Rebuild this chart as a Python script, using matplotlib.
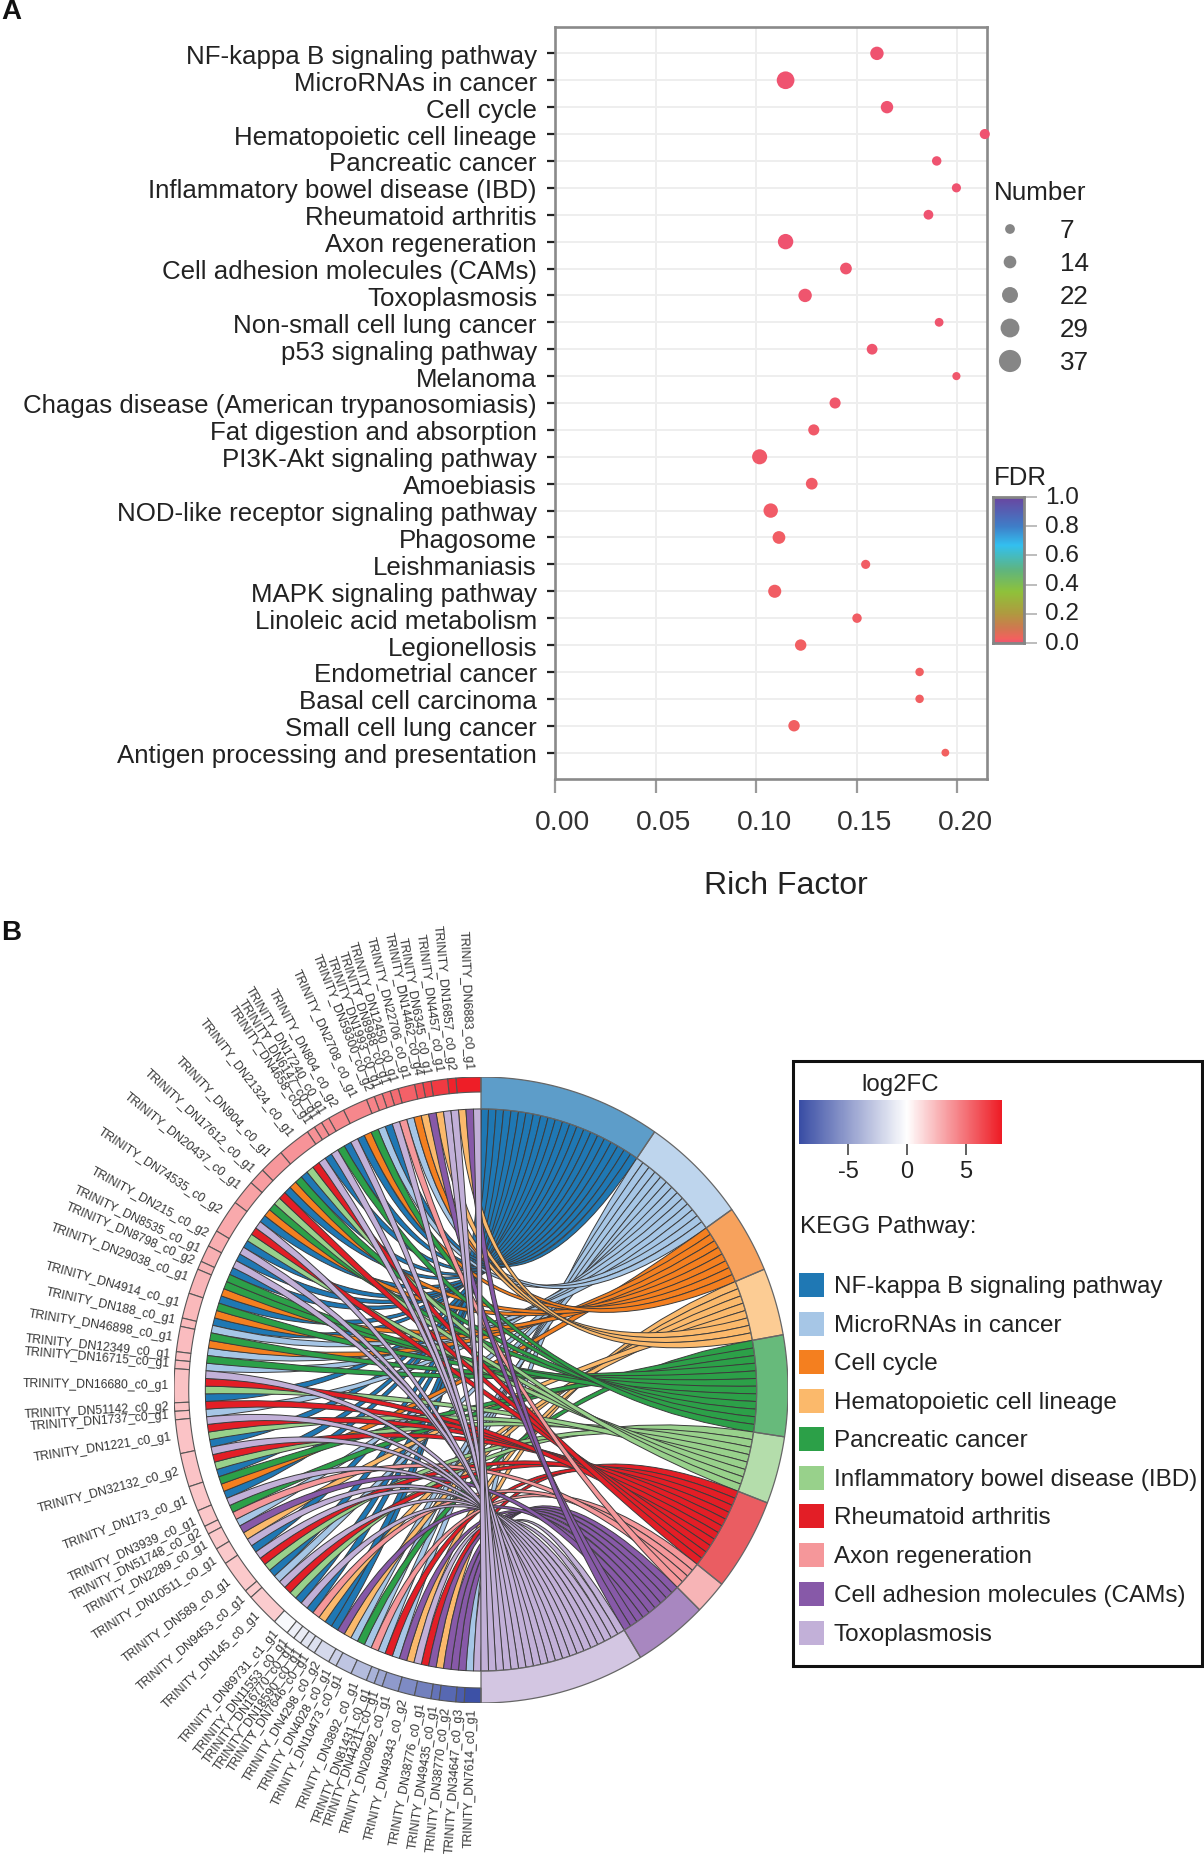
import numpy as np
import matplotlib
matplotlib.use('Agg')
import matplotlib.pyplot as plt
from matplotlib.colors import LinearSegmentedColormap, TwoSlopeNorm
from matplotlib.path import Path
from matplotlib.patches import PathPatch, Polygon, Rectangle
from matplotlib.transforms import ScaledTranslation

plt.rcParams['font.family'] = ['Liberation Sans', 'DejaVu Sans']

W, H = 1204, 1855

# panel A
terms = ['NF-kappa B signaling pathway', 'MicroRNAs in cancer', 'Cell cycle',
         'Hematopoietic cell lineage', 'Pancreatic cancer', 'Inflammatory bowel disease (IBD)',
         'Rheumatoid arthritis', 'Axon regeneration', 'Cell adhesion molecules (CAMs)',
         'Toxoplasmosis', 'Non-small cell lung cancer', 'p53 signaling pathway', 'Melanoma',
         'Chagas disease (American trypanosomiasis)', 'Fat digestion and absorption',
         'PI3K-Akt signaling pathway', 'Amoebiasis', 'NOD-like receptor signaling pathway',
         'Phagosome', 'Leishmaniasis', 'MAPK signaling pathway', 'Linoleic acid metabolism',
         'Legionellosis', 'Endometrial cancer', 'Basal cell carcinoma', 'Small cell lung cancer',
         'Antigen processing and presentation']
rich = [.160, .1146, .165, .2136, .1897, .1995, .1856, .1146, .1446, .1243, .1909, .1576, .1995,
        .1392, .1286, .1017, .1276, .1072, .1113, .1544, .1092, .1501, .1221, .1812, .1812, .1188, .194]
number = [24, 37, 21, 14, 12, 11, 13, 30, 19, 24, 10, 16, 8, 17, 17, 29, 19, 27, 22, 11, 23, 12, 18, 9, 9, 18, 7]
fdr = [0, 0, 0, 0, .002, .002, .003, .003, .004, .005, .006, .007, .008, .01, .012, .014, .016,
       .018, .02, .021, .022, .023, .024, .025, .026, .027, .03]
size_ticks = [7, 14, 22, 29, 37]
fdr_ticks = [0.0, 0.2, 0.4, 0.6, 0.8, 1.0]
x_ticks = [0.00, 0.05, 0.10, 0.15, 0.20]

# panel B, genes from the top of the circle going anticlockwise, with their pathways
genes = ['DN6883_c0_g1', 'DN16857_c0_g2', 'DN4457_c0_g1', 'DN6345_c0_g1', 'DN14462_c0_g4', 'DN22706_c0_g1',
         'DN12450_c0_g1', 'DN8988_c0_g1', 'DN1993_c0_g1', 'DN59300_c0_g2', 'DN2708_c0_g1', 'DN804_c0_g2',
         'DN17240_c0_g1', 'DN6147_c0_g1', 'DN4658_c0_g1', 'DN21324_c0_g1', 'DN904_c0_g1', 'DN17612_c0_g1',
         'DN20437_c0_g1', 'DN74535_c0_g2', 'DN215_c0_g2', 'DN8535_c0_g1', 'DN8798_c0_g2', 'DN29038_c0_g1',
         'DN4914_c0_g1', 'DN188_c0_g1', 'DN46898_c0_g1', 'DN12349_c0_g1', 'DN16715_c0_g1', 'DN16680_c0_g1',
         'DN51142_c0_g2', 'DN1737_c0_g1', 'DN1221_c0_g1', 'DN32132_c0_g2', 'DN173_c0_g1', 'DN3939_c0_g1',
         'DN51748_c0_g2', 'DN2289_c0_g1', 'DN10511_c0_g1', 'DN589_c0_g1', 'DN9453_c0_g1', 'DN145_c0_g1',
         'DN89731_c1_g1', 'DN11553_c0_g1', 'DN16770_c0_g1', 'DN18590_c0_g1', 'DN7646_c0_g1', 'DN4298_c0_g2',
         'DN4028_c0_g1', 'DN10473_c0_g1', 'DN3892_c0_g1', 'DN81431_c0_g1', 'DN44211_c0_g1', 'DN20982_c0_g1',
         'DN49343_c0_g2', 'DN38776_c0_g1', 'DN49435_c0_g1', 'DN38770_c0_g2', 'DN34647_c0_g3', 'DN7614_c0_g1']
gene_links = ['TDH', 'T', 'TH', 'D', 'H', 'CM', 'A', 'T', 'N', 'M', 'PCN', 'TN', 'P', 'T', 'N', 'TRIN',
              'PCN', 'RI', 'PCN', 'TRIN', 'TN', 'TN', 'P', 'PCN', 'PCN', 'M', 'PCM', 'P', 'M', 'TRIN',
              'R', 'M', 'TRIN', 'TRIN', 'PCN', 'TP', 'A', 'MD', 'HT', 'NTRI', 'N', 'MTRI',
              'NT', 'N', 'A', 'H', 'N', 'ND', 'H', 'MP', 'MA', 'M', 'R', 'MD', 'HT', 'RD', 'H', 'DD', 'D', 'MT']
log2fc = [8, 7.8, 7, 6.6, 6.2, 5.6, 5.2, 4.9, 4.6, 4.4, 4.3, 4.2, 4.1, 4, 3.9, 3.8, 3.7, 3.5, 3.3, 3.1,
          2.9, 2.8, 2.7, 2.6, 2.5, 2.5, 2.4, 2.3, 2.3, 2.2, 2.2, 2.2, 2.1, 2.1, 2, 2, 2, 1.9, 1.9, 1.9,
          1.8, 1.8, -.3, -.8, -1, -1.3, -1.6, -2, -2.4, -3, -3.5, -4, -4.6, -5.2, -6, -6.6, -7.2,
          -7.8, -8.4, -9]
pathways = ['NF-kappa B signaling pathway', 'MicroRNAs in cancer', 'Cell cycle', 'Hematopoietic cell lineage',
            'Pancreatic cancer', 'Inflammatory bowel disease (IBD)', 'Rheumatoid arthritis', 'Axon regeneration',
            'Cell adhesion molecules (CAMs)', 'Toxoplasmosis']
codes = 'NMCHPIRADT'
path_colors = ['#1F78B4', '#A6C6E6', '#F47F1F', '#FBB96B', '#2CA048', '#98D18B', '#E31E26', '#F5979A',
               '#8759A8', '#C2B0D8']
fc_ticks = [-5, 0, 5]


def px_axes(x0, y0, x1, y1, **kw):
    return fig.add_axes([x0 / W, 1 - y1 / H, (x1 - x0) / W, (y1 - y0) / H], **kw)


def bubble_s(n, k=1.0):
    # diameter in px to area in points
    return ((5.5 + .33 * np.asarray(n)) * k * .72) ** 2


def nudge(labels, dx, dy):
    # move tick labels by some px, dy is upwards
    off = ScaledTranslation(dx / 100, dy / 100, fig.dpi_scale_trans)
    for t in labels:
        t.set_transform(t.get_transform() + off)


fig = plt.figure(figsize=(W / 100, H / 100), dpi=100)

# page layer in pixel coordinates for the legends and panel letters
bg = px_axes(0, 0, W, H)
bg.set_xlim(0, W)
bg.set_ylim(H, 0)
bg.axis('off')
bg.text(1, 12, 'A', fontsize=20, fontweight='bold', va='center', color='#111111')
bg.text(1, 933, 'B', fontsize=20, fontweight='bold', va='center', color='#111111')

# bubble plot
fdr_cmap = LinearSegmentedColormap.from_list('fdr', [(0, '#EF5370'), (.03, '#F2625E'), (.1, '#D07850'),
                                                     (.2, '#B09A40'), (.35, '#8FC23A'), (.5, '#5FB57F'),
                                                     (.67, '#33C0F0'), (.8, '#3F7EC8'), (1, '#6A45A0')])
ax = px_axes(555, 27, 987, 779)
ypos = np.arange(len(terms))
ax.scatter(rich, ypos, s=bubble_s(number), c=fdr, cmap=fdr_cmap, vmin=0, vmax=1, linewidths=0, zorder=3, clip_on=False)
ax.set_xlim(0, .2147)
ax.set_ylim(26.98, -.98)
ax.set_yticks(ypos)
ax.set_yticklabels(terms, fontsize=18.6, color='#222222')
ax.set_xticks(x_ticks)
ax.set_xticklabels(['%.2f' % v for v in x_ticks], fontsize=20.4, color='#333333')
ax.grid(True, color='#EEEEEE', lw=1.4, zorder=0)
ax.set_axisbelow(True)
ax.tick_params(axis='y', length=6, width=1.6, color='#222222', pad=7)
ax.tick_params(axis='x', length=10, width=1.6, color='#9a9a9a', pad=12.5)
nudge(ax.get_yticklabels(), 0, -1)
nudge(ax.get_xticklabels(), 8, 0)
for s in ax.spines.values():
    s.set_color('#8A8A8A')
    s.set_linewidth(1.9)
ax.set_xlabel('Rich Factor', fontsize=23, color='#222222')
ax.xaxis.set_label_coords(.535, -.123)

# size legend
bg.text(994, 192.5, 'Number', fontsize=18.7, va='center', color='#222222')
leg_y = [229, 262, 295, 328, 361]
bg.scatter([1010] * 5, leg_y, s=bubble_s(size_ticks, 1.25), c='#868686', linewidths=0)
for n, y in zip(size_ticks, leg_y):
    bg.text(1060, y + 2, str(n), fontsize=18.7, va='center', color='#222222')

# FDR colour bar
bg.text(994, 478, 'FDR', fontsize=18.5, va='center', color='#222222')
cax = px_axes(993, 497, 1024, 643)
cax.imshow(np.linspace(1, 0, 256)[:, None], aspect='auto', cmap=fdr_cmap, vmin=0, vmax=1, extent=[0, 1, 0, 1])
cax.set_xticks([])
cax.yaxis.tick_right()
cax.set_yticks(fdr_ticks)
cax.set_yticklabels(['%.1f' % v for v in fdr_ticks], fontsize=17.5, color='#222222')
cax.tick_params(axis='y', length=9, width=1.4, color='#bdbdbd', pad=6)
nudge(cax.get_yticklabels(), 0, 2)
for s in cax.spines.values():
    s.set_color('#858585')
    s.set_linewidth(2)

# chord plot, unit circle stretched a little as in the picture
cx, cy, rx, ry = 481, 1390, 307, 313
ch = px_axes(cx - rx, cy - ry, cx + rx, cy + ry)
ch.set_xlim(-1, 1)
ch.set_ylim(-1, 1)
ch.axis('off')


def pt(r, deg):
    t = np.radians(deg)
    return r * np.sin(t), r * np.cos(t)


def ring_cell(r0, r1, a0, a1):
    t = np.linspace(a0, a1, 24)
    outer = np.column_stack(pt(r1, t))
    inner = np.column_stack(pt(r0, t[::-1]))
    return np.vstack([outer, inner])


R_CHORD, R_GENE = .898, .952
total = sum(len(s) for s in gene_links)
unit = 180.0 / total

fc_cmap = LinearSegmentedColormap.from_list('fc', ['#3A4EA5', '#FFFFFF', '#EE1C25'])
fc_norm = TwoSlopeNorm(vmin=-9.2, vcenter=0, vmax=8.1)

# slots on the left, gene cells and labels
slots = {c: [] for c in codes}
pos = 360.0
for name, links, fc in zip(genes, gene_links, log2fc):
    top = pos
    for c in links:
        slots[c].append((pos - unit, pos))
        pos -= unit
    ch.add_patch(Polygon(ring_cell(R_GENE, 1, pos, top), facecolor=fc_cmap(fc_norm(fc)),
                         edgecolor='#555555', lw=.8, zorder=5))
    mid = (pos + top) / 2
    lx, ly = pt(1.018, mid)
    ly += .006 * max(np.cos(np.radians(mid)), 0)
    rot = np.degrees(np.arctan2(-np.cos(np.radians(mid)), -np.sin(np.radians(mid))))
    ch.text(lx, ly, 'TRINITY_' + name, fontsize=8.8, ha='right', va='center', rotation=rot,
            rotation_mode='anchor', color='#333333', clip_on=False)

# pathway sectors on the right and the ribbons, first pathway at the bottom of the stack
start = 0.0
for c, col in zip(codes, path_colors):
    n = len(slots[c])
    ch.add_patch(Polygon(ring_cell(R_CHORD, 1, start, start + n * unit), facecolor=col, alpha=.72,
                         edgecolor='none', zorder=4))
    ch.add_patch(Polygon(ring_cell(R_CHORD, 1, start, start + n * unit), facecolor='none',
                         edgecolor='#666666', lw=.9, zorder=5))
    for k, (l0, l1) in enumerate(sorted(slots[c])):
        a0, a1 = start + k * unit, start + (k + 1) * unit
        verts = [pt(R_CHORD, a0), pt(R_CHORD, a1), (0, 0), pt(R_CHORD, l0), pt(R_CHORD, l1), (0, 0),
                 pt(R_CHORD, a0), pt(R_CHORD, a0)]
        cmds = [Path.MOVETO, Path.LINETO, Path.CURVE3, Path.CURVE3, Path.LINETO, Path.CURVE3, Path.CURVE3,
                Path.CLOSEPOLY]
        ch.add_patch(PathPatch(Path(verts, cmds), facecolor=col, edgecolor='#3c3c3c', lw=.7, zorder=3))
    start += n * unit

# legend box of panel B
bg.add_patch(Rectangle((793, 1061), 409, 605, facecolor='white', edgecolor='#111111', lw=2.2, zorder=0))
bg.text(900, 1085, 'log2FC', fontsize=17.3, ha='center', va='center', color='#222222')
fax = px_axes(799, 1100, 1002, 1144)
fc_grad = np.linspace(-9.2, 8.1, 256)[None, :]
fax.imshow(fc_grad, aspect='auto', cmap=fc_cmap, norm=fc_norm, extent=[-9.2, 8.1, 0, 1])
fax.set_yticks([])
fax.set_xticks(fc_ticks)
fax.set_xticklabels([str(v) for v in fc_ticks], fontsize=17, color='#222222')
fax.tick_params(axis='x', length=8, width=1.2, color='#444444', pad=4)
for s in fax.spines.values():
    s.set_visible(False)
bg.text(800, 1227, 'KEGG Pathway:', fontsize=17.5, va='center', color='#222222')
row_y = [1285, 1324, 1362, 1401, 1439, 1478, 1516, 1555, 1594, 1633]
for name, col, y in zip(pathways, path_colors, row_y):
    bg.add_patch(Rectangle((799, y - 12), 25, 24, facecolor=col, edgecolor='none'))
    bg.text(834, y + 2, name, fontsize=17.5, va='center', color='#222222')

fig.savefig('out.png', dpi=100)
